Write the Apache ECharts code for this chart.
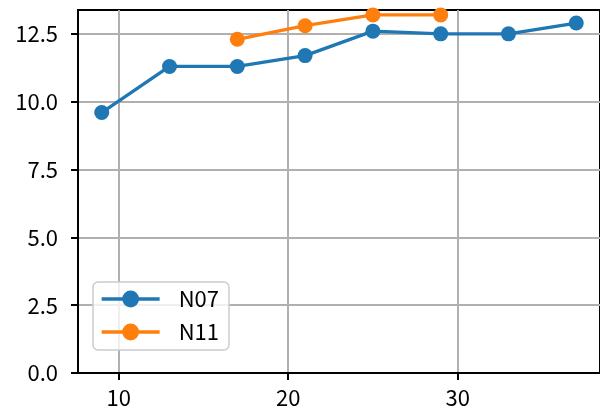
<!DOCTYPE html>
<html><head><meta charset="utf-8">
<script src="https://cdn.jsdelivr.net/npm/echarts@6/dist/echarts.min.js"></script>
<style>html,body{margin:0;padding:0;background:#fff}#c{width:600px;height:416px}</style>
</head><body><div id="c"></div>
<script>
const xN07 = [9, 13, 17, 21, 25, 29, 33, 37];
const yN07 = [9.6, 11.3, 11.3, 11.7, 12.6, 12.5, 12.5, 12.9];
const xN11 = [17, 21, 25, 29];
const yN11 = [12.3, 12.8, 13.2, 13.2];
const xTicks = [10, 20, 30];
const yTicks = [0, 2.5, 5, 7.5, 10, 12.5];
const seriesNames = ['N07', 'N11'];

const FONT = '"Noto Sans CJK JP", "DejaVu Sans", sans-serif';
const chart = echarts.init(document.getElementById('c'), null, {renderer: 'canvas'});
const zip = (xs, ys) => xs.map((x, i) => [x, ys[i]]);
const lineSeries = (name, data, color) => ({
  name, type: 'line', data, symbol: 'circle', symbolSize: 15,
  itemStyle: {color}, lineStyle: {color, width: 3.3}, z: 5, animation: false
});
chart.setOption({
  animation: false,
  grid: {left: 78, top: 10, bottom: 43, width: 525, containLabel: false,
    show: true, borderColor: '#000', borderWidth: 2, backgroundColor: 'transparent'},
  xAxis: {
    type: 'value', min: 7.6, max: 38.4,
    axisLine: {show: true, lineStyle: {color: '#000', width: 2}},
    axisTick: {show: true, customValues: xTicks, length: 7, lineStyle: {color: '#000', width: 2}},
    axisLabel: {customValues: xTicks, color: '#000', fontSize: 22, fontFamily: FONT, margin: 14},
    splitLine: {show: true, lineStyle: {color: '#b0b0b0', width: 2}}
  },
  yAxis: {
    type: 'value', min: 0, max: 13.38,
    axisLine: {show: true, lineStyle: {color: '#000', width: 2}},
    axisTick: {show: true, customValues: yTicks, length: 7, lineStyle: {color: '#000', width: 2}},
    axisLabel: {customValues: yTicks, color: '#000', fontSize: 22, fontFamily: FONT, margin: 20,
      formatter: v => v.toFixed(1)},
    splitLine: {show: true, lineStyle: {color: '#b0b0b0', width: 2}}
  },
  legend: {
    orient: 'vertical', left: 93, top: 282,
    data: seriesNames,
    itemWidth: 58, itemHeight: 21, itemGap: 11,
    padding: [6, 10, 7, 7],
    borderColor: '#cccccc', borderWidth: 1.5, borderRadius: 5,
    backgroundColor: 'rgba(255,255,255,0.8)',
    lineStyle: {width: 3.3},
    textStyle: {color: '#000', fontSize: 22, fontFamily: FONT, padding: [0, 0, 0, 14]}
  },
  series: [
    lineSeries(seriesNames[0], zip(xN07, yN07), '#1f77b4'),
    lineSeries(seriesNames[1], zip(xN11, yN11), '#ff7f0e')
  ]
});
</script></body></html>
